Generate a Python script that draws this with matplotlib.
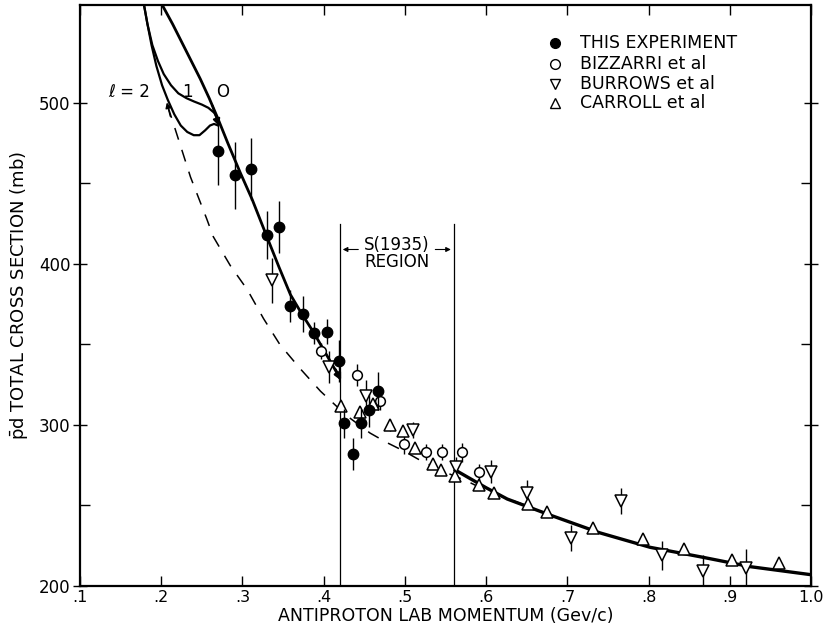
import matplotlib.pyplot as plt

# This experiment (filled circles)
this_x = [0.270, 0.291, 0.311, 0.330, 0.345, 0.359, 0.375, 0.388, 0.404, 0.419, 0.425, 0.436, 0.446, 0.456, 0.467]
this_y = [470, 455, 459, 418, 423, 374, 369, 357, 358, 340, 301, 282, 301, 309, 321]
this_err = [21, 21, 19, 15, 16, 10, 11, 7, 8, 13, 9, 10, 9, 10, 12]

# Bizzarri et al (open circles)
bizz_x = [0.397, 0.441, 0.469, 0.499, 0.526, 0.546, 0.570, 0.591]
bizz_y = [346, 331, 315, 288, 283, 283, 283, 271]
bizz_err = [5, 7, 6, 6, 5, 5, 6, 5]

# Burrows et al (down triangles)
burr_x = [0.336, 0.407, 0.452, 0.510, 0.563, 0.606, 0.650, 0.705, 0.766, 0.816, 0.867, 0.920]
burr_y = [390, 336, 318, 297, 274, 271, 258, 230, 253, 219, 209, 211]
burr_err = [14, 10, 10, 5, 6, 7, 8, 8, 8, 9, 10, 12]

# Carroll et al (up triangles)
carr_x = [0.421, 0.445, 0.461, 0.481, 0.498, 0.513, 0.535, 0.545, 0.562, 0.591, 0.610, 0.652, 0.675, 0.732, 0.793, 0.844, 0.903, 0.960]
carr_y = [312, 308, 313, 300, 296, 286, 276, 272, 268, 263, 258, 251, 246, 236, 229, 223, 216, 214]
carr_err = [3, 3, 3, 4, 3, 3, 3, 3, 3, 3, 3, 3, 3, 3, 3, 3, 3, 3]

# fitted curves
l0_x = [0.200, 0.214, 0.227, 0.238, 0.248, 0.259, 0.270, 0.282, 0.297, 0.312, 0.330, 0.345, 0.359, 0.373, 0.387, 0.403, 0.419]
l0_y = [562, 549, 536, 525, 515, 503, 490, 475, 457, 440, 417, 398, 381, 369, 358, 344, 330]
fit_x = [0.562, 0.600, 0.626, 0.679, 0.740, 0.802, 0.865, 0.925, 1.0]
fit_y = [272, 261, 254, 244, 233, 224, 218, 212, 207]
l1_x = [0.178, 0.183, 0.189, 0.196, 0.203, 0.212, 0.221, 0.231, 0.240, 0.250, 0.258, 0.265, 0.270]
l1_y = [563, 549, 536, 526, 518, 511, 506, 503, 501, 499, 497, 494, 490]
l2_x = [0.178, 0.183, 0.188, 0.194, 0.201, 0.208, 0.216, 0.224, 0.232, 0.240, 0.247, 0.254, 0.260, 0.265, 0.270]
l2_y = [563, 549, 536, 523, 511, 502, 493, 486, 482, 480, 480, 483, 486, 487, 486]
dash_x = [0.208, 0.217, 0.236, 0.256, 0.264, 0.285, 0.306, 0.326, 0.346, 0.371, 0.396, 0.415, 0.433, 0.457, 0.478, 0.498, 0.519, 0.548, 0.577, 0.605, 0.633, 0.660]
dash_y = [498, 484, 454, 428, 417, 399, 384, 366, 350, 335, 321, 312, 304, 295, 289, 284, 278, 271, 265, 258, 253, 248]

x_ticks = [0.1, 0.2, 0.3, 0.4, 0.5, 0.6, 0.7, 0.8, 0.9, 1.0]
x_labels = ['.1', '.2', '.3', '.4', '.5', '.6', '.7', '.8', '.9', '1.0']
y_ticks = [200, 300, 400, 500]
region = [0.42, 0.56]

fig = plt.figure(figsize=(8.26, 6.29), dpi=100)
ax = fig.add_axes([0.0969, 0.0684, 0.885, 0.924])

# 曲线
ax.plot(l0_x, l0_y, color='black', lw=2.0)
ax.plot(fit_x, fit_y, color='black', lw=2.4)
ax.plot(l1_x, l1_y, color='black', lw=1.6)
ax.plot(l2_x, l2_y, color='black', lw=1.6)
ax.plot(dash_x, dash_y, color='black', lw=1.1, ls=(0, (8, 7)))

# 箭头
ax.annotate('', xy=(0.272, 484), xytext=(0.262, 500),
            arrowprops=dict(arrowstyle='-|>', color='black', lw=1.5, mutation_scale=10))
ax.annotate('', xy=(0.423, 326), xytext=(0.413, 336),
            arrowprops=dict(arrowstyle='-|>', color='black', lw=1.8, mutation_scale=10))
ax.annotate('', xy=(0.206, 502), xytext=(0.212, 490),
            arrowprops=dict(arrowstyle='-|>', color='black', lw=1.0, mutation_scale=8))

# 数据点
ax.errorbar(this_x, this_y, yerr=this_err, fmt='o', ms=7.5, mfc='black', mec='black',
            ecolor='black', elinewidth=1.0, capsize=0, zorder=5)
ax.errorbar(bizz_x, bizz_y, yerr=bizz_err, fmt='o', ms=7, mfc='white', mec='black', mew=1.1,
            ecolor='black', elinewidth=1.0, capsize=0, zorder=4)
ax.errorbar(burr_x, burr_y, yerr=burr_err, fmt='v', ms=8.5, mfc='white', mec='black', mew=1.1,
            ecolor='black', elinewidth=1.0, capsize=0, zorder=4)
ax.errorbar(carr_x, carr_y, yerr=carr_err, fmt='^', ms=8.5, mfc='white', mec='black', mew=1.1,
            ecolor='black', elinewidth=1.0, capsize=0, zorder=4)

# S(1935) region
for xv in region:
    ax.plot([xv, xv], [200, 425], color='black', lw=0.9)
ax.annotate('', xy=(region[0], 409), xytext=(0.446, 409),
            arrowprops=dict(arrowstyle='-|>', color='black', lw=0.8, mutation_scale=7))
ax.annotate('', xy=(region[1], 409), xytext=(0.534, 409),
            arrowprops=dict(arrowstyle='-|>', color='black', lw=0.8, mutation_scale=7))
ax.text(0.490, 412, 'S(1935)', ha='center', va='center', fontsize=12)
ax.text(0.490, 401.5, 'REGION', ha='center', va='center', fontsize=12)

# ℓ labels
ax.text(0.160, 507, 'ℓ = 2', ha='center', va='center', fontsize=12)
ax.text(0.232, 507, '1', ha='center', va='center', fontsize=12)
ax.text(0.275, 507, 'O', ha='center', va='center', fontsize=12)

# 图例
leg_y = [537, 524.5, 512, 500]
leg_names = ['THIS EXPERIMENT', 'BIZZARRI et al', 'BURROWS et al', 'CARROLL et al']
leg_mk = ['o', 'o', 'v', '^']
leg_fc = ['black', 'white', 'white', 'white']
for yy, name, mk, fc in zip(leg_y, leg_names, leg_mk, leg_fc):
    ax.plot([0.685], [yy], marker=mk, ms=7, mfc=fc, mec='black', mew=1.0, color='black')
    ax.text(0.716, yy, name, ha='left', va='center', fontsize=12.5)

ax.set_xlim(0.1, 1.0)
ax.set_ylim(200, 561)
ax.set_xticks(x_ticks)
ax.set_xticklabels(x_labels, fontsize=11.5)
ax.set_yticks(y_ticks)
ax.set_yticklabels([str(v) for v in y_ticks], fontsize=12)
ax.set_yticks([250, 350, 450], minor=True)
ax.tick_params(axis='x', which='major', direction='in', top=True, length=7, width=1, pad=3)
ax.tick_params(axis='y', which='major', direction='inout', right=True, length=10, width=1, pad=2)
ax.tick_params(axis='y', which='minor', direction='in', right=True, length=7, width=1)
for s in ax.spines.values():
    s.set_linewidth(1.6)

ax.set_xlabel('ANTIPROTON LAB MOMENTUM (Gev/c)', fontsize=12.5, labelpad=1)
ax.set_ylabel(r'$\bar{\mathrm{p}}$d TOTAL CROSS SECTION (mb)', fontsize=13, labelpad=6)

plt.savefig('out.png', dpi=100)
